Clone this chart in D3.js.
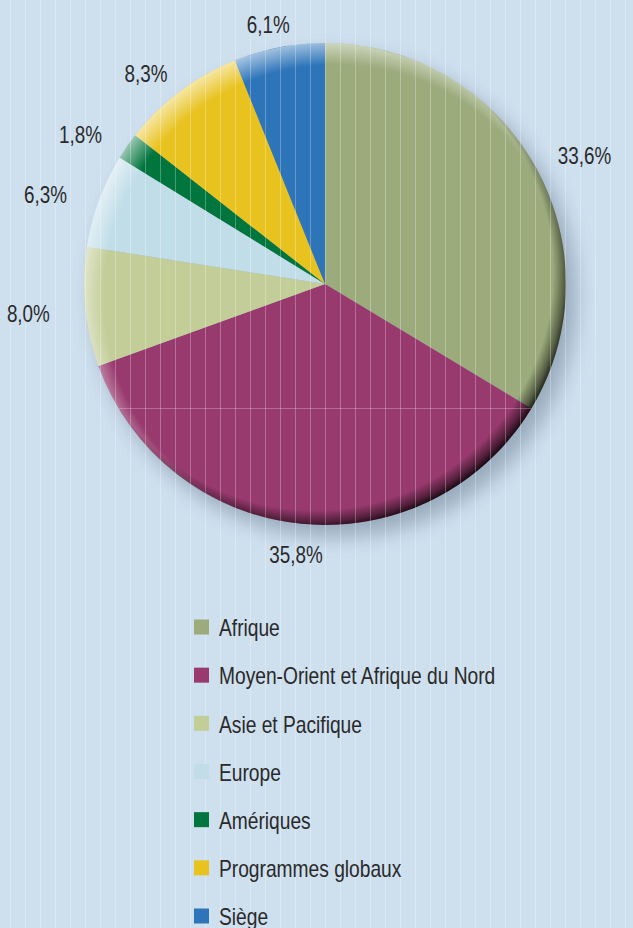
<!DOCTYPE html>
<html>
<head>
<meta charset="utf-8">
<script src="https://cdn.jsdelivr.net/npm/d3@7"></script>
<style>
  html, body { margin: 0; padding: 0; background: #cedfee; }
  svg { display: block; }
</style>
</head>
<body>
<script>
// -- data --
var regions = ["Afrique", "Moyen-Orient et Afrique du Nord", "Asie et Pacifique",
               "Europe", "Amériques", "Programmes globaux", "Siège"];
var shares = [33.6, 35.8, 8.0, 6.3, 1.8, 8.3, 6.1];
var labels = ["33,6%", "35,8%", "8,0%", "6,3%", "1,8%", "8,3%", "6,1%"];
var colors = ["#9bab7c", "#983a6e", "#c3cd98", "#c0dde8", "#00753d", "#e8c21e", "#2d74b9"];

// -- layout --
var W = 633, H = 928;
var cx = 325, cy = 284, R = 241;
var font = "'Liberation Sans', Arial, sans-serif";
var squeeze = 0.8; // condensed look

var svg = d3.select("body").append("svg")
  .attr("width", W).attr("height", H);

var defs = svg.append("defs");

// shadow blur
defs.append("filter").attr("id", "blur")
  .attr("x", "-20%").attr("y", "-20%").attr("width", "140%").attr("height", "140%")
  .append("feGaussianBlur").attr("stdDeviation", 10);

// dark rim, lower right
var dark = defs.append("radialGradient").attr("id", "rimDark")
  .attr("gradientUnits", "userSpaceOnUse")
  .attr("cx", cx - 10).attr("cy", cy - 12).attr("r", R + 15);
dark.append("stop").attr("offset", 0.93).attr("stop-color", "#000").attr("stop-opacity", 0);
dark.append("stop").attr("offset", 0.975).attr("stop-color", "#000").attr("stop-opacity", 0.45);
dark.append("stop").attr("offset", 1).attr("stop-color", "#000").attr("stop-opacity", 0.8);

// light rim, upper left
var light = defs.append("radialGradient").attr("id", "rimLight")
  .attr("gradientUnits", "userSpaceOnUse")
  .attr("cx", cx + 11).attr("cy", cy + 13).attr("r", R + 17);
light.append("stop").attr("offset", 0.9).attr("stop-color", "#fff").attr("stop-opacity", 0);
light.append("stop").attr("offset", 1).attr("stop-color", "#fff").attr("stop-opacity", 0.6);

defs.append("clipPath").attr("id", "pieClip")
  .append("circle").attr("cx", cx).attr("cy", cy).attr("r", R);

// drop shadow
svg.append("circle")
  .attr("cx", cx + 10).attr("cy", cy + 12).attr("r", R)
  .attr("fill", "#6a7f93").attr("opacity", 0.55)
  .attr("filter", "url(#blur)");

// -- pie --
var pie = d3.pie().sort(null).value(function(d){ return d; });
var arcs = pie(shares);
var arc = d3.arc().innerRadius(0).outerRadius(R);

var g = svg.append("g").attr("transform", "translate(" + cx + "," + cy + ")");
g.selectAll("path.slice")
  .data(arcs)
  .enter()
  .append("path")
    .attr("class", "slice")
    .attr("d", arc)
    .attr("fill", function(d, i){ return colors[i]; });

svg.append("circle").attr("cx", cx).attr("cy", cy).attr("r", R).attr("fill", "url(#rimLight)");
svg.append("circle").attr("cx", cx).attr("cy", cy).attr("r", R).attr("fill", "url(#rimDark)");

// faint horizontal line inside pie
svg.append("line")
  .attr("x1", 0).attr("x2", W).attr("y1", 408.5).attr("y2", 408.5)
  .attr("stroke", "#fff").attr("stroke-opacity", 0.25)
  .attr("clip-path", "url(#pieClip)");

// vertical stripes over everything
svg.append("g").selectAll("line")
  .data(d3.range(10, W, 15))
  .enter()
  .append("line")
    .attr("x1", function(d){ return d + 0.5; })
    .attr("x2", function(d){ return d + 0.5; })
    .attr("y1", 0).attr("y2", H)
    .attr("stroke", "#fff").attr("stroke-opacity", 0.28);

// -- percentage labels --
var lrx = 298, lry = 268;
svg.append("g").selectAll("g")
  .data(arcs)
  .enter()
  .append("g")
    .attr("transform", function(d){
      var a = (d.startAngle + d.endAngle) / 2;
      return "translate(" + (cx + lrx * Math.sin(a)) + "," + (cy + 4 - lry * Math.cos(a)) + ")";
    })
  .append("text")
    .attr("transform", "scale(0.82,1)")
    .attr("text-anchor", "middle")
    .attr("dominant-baseline", "central")
    .style("font-family", font)
    .style("font-size", "23px")
    .style("fill", "#2a2a2a")
    .text(function(d, i){ return labels[i]; });

// -- legend --
var legendY = d3.scalePoint().domain(regions).range([627, 916]);
var leg = svg.append("g").selectAll("g")
  .data(regions)
  .enter()
  .append("g")
    .attr("transform", function(d){ return "translate(194," + legendY(d) + ")"; });

leg.append("rect")
  .attr("x", 0).attr("y", -7.5).attr("width", 15).attr("height", 15)
  .attr("fill", function(d, i){ return colors[i]; });

leg.append("text")
  .attr("transform", "translate(25,1) scale(" + squeeze + ",1)")
  .attr("dominant-baseline", "central")
  .style("font-family", font)
  .style("font-size", "24px")
  .style("fill", "#2a2a2a")
  .text(function(d){ return d; });
</script>
</body>
</html>
